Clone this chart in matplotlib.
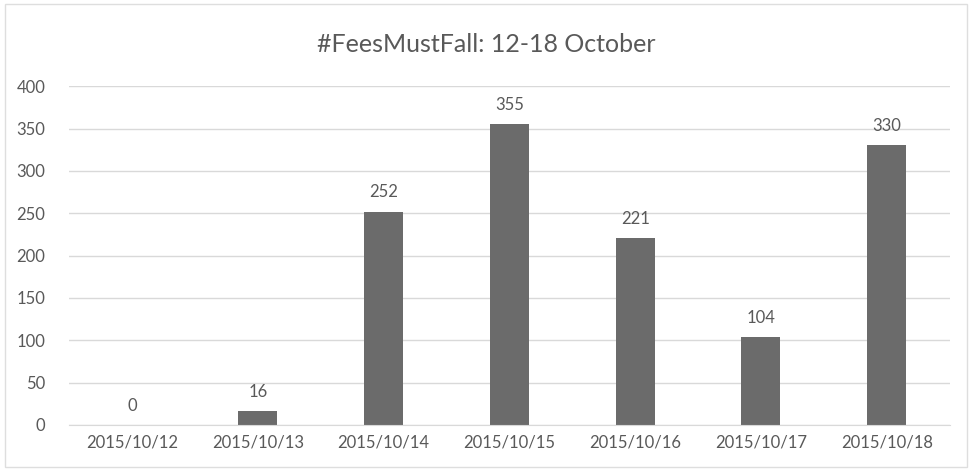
import matplotlib.pyplot as plt
from matplotlib.patches import Rectangle

# данные
dates = ['2015/10/12', '2015/10/13', '2015/10/14', '2015/10/15',
         '2015/10/16', '2015/10/17', '2015/10/18']
counts = [0, 16, 252, 355, 221, 104, 330]
yticks = [0, 50, 100, 150, 200, 250, 300, 350, 400]

text_color = '#595959'
bar_color = '#6b6b6b'
grid_color = '#d9d9d9'

plt.rcParams['font.family'] = ['Lato', 'DejaVu Sans']

fig = plt.figure(figsize=(9.72, 4.71), dpi=100)
ax = fig.add_axes([0.071, 0.0977, 0.906, 0.7193])

x = range(len(dates))
bars = ax.bar(x, counts, width=0.31, color=bar_color, zorder=3)

# подписи значений
for b, v in zip(bars, counts):
    ax.annotate(str(v), (b.get_x() + b.get_width() / 2, v),
                xytext=(0, 8), textcoords='offset points',
                ha='center', va='bottom', fontsize=12, color=text_color)

ax.set_xlim(-0.5, len(dates) - 0.5)
ax.set_ylim(0, 400)
ax.set_yticks(yticks)
ax.set_xticks(list(x))
ax.set_xticklabels(dates)
ax.tick_params(length=0, labelsize=12, labelcolor=text_color)
ax.tick_params(axis='x', pad=7)
ax.tick_params(axis='y', pad=17)

ax.grid(axis='y', color=grid_color, linewidth=1, zorder=0)
for s in ['top', 'right', 'left']:
    ax.spines[s].set_visible(False)
ax.spines['bottom'].set_color(grid_color)
ax.spines['bottom'].set_zorder(4)

fig.text(0.5, 0.905, '#FeesMustFall: 12-18 October', ha='center', va='center',
         fontsize=18, color=text_color)

# рамка вокруг диаграммы
fig.patches.append(Rectangle((0.005, 0.009), 0.99, 0.982, transform=fig.transFigure,
                             fill=False, edgecolor='#dedede', linewidth=1))

fig.savefig('out.png', dpi=100)
